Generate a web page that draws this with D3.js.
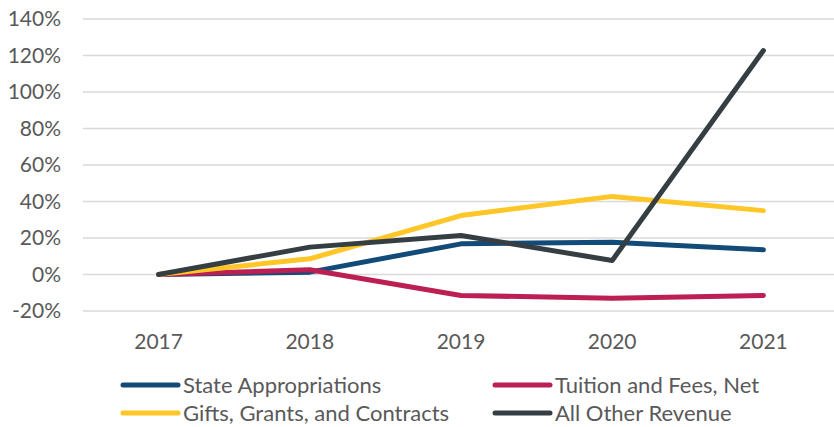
<!DOCTYPE html>
<html lang="en">
<head>
    <meta charset="UTF-8">
    <title>Revenue Change</title>
    <script src="https://d3js.org/d3.v7.min.js"></script>
    <style>
        body { margin: 0; padding: 0; background: #fff; }
        svg text { font-family: Lato, "Open Sans", sans-serif; fill: #595959; }
    </style>
</head>
<body>
    <svg id="chart"></svg>
    <script>
        const width = 834, height = 427;
        const margin = { top: 19, right: -5, bottom: 116, left: 83 };

        const years = ["2017", "2018", "2019", "2020", "2021"];
        const yTicks = [-0.2, 0, 0.2, 0.4, 0.6, 0.8, 1.0, 1.2, 1.4];

        const stateAppropriations = [0, 0.013, 0.168, 0.177, 0.135];
        const tuitionFeesNet      = [0, 0.026, -0.115, -0.13, -0.115];
        const giftsGrantsContracts = [0, 0.086, 0.323, 0.428, 0.35];
        const allOtherRevenue     = [0, 0.15, 0.214, 0.077, 1.227];

        const seriesNames  = ["State Appropriations", "Tuition and Fees, Net", "Gifts, Grants, and Contracts", "All Other Revenue"];
        const seriesColors = ["#124a78", "#bc1f52", "#ffc627", "#353e42"];
        const seriesValues = [stateAppropriations, tuitionFeesNet, giftsGrantsContracts, allOtherRevenue];

        const svg = d3.select("#chart").attr("width", width).attr("height", height);

        const x = d3.scalePoint()
            .domain(years)
            .range([margin.left, width - margin.right])
            .padding(0.5);
        const y = d3.scaleLinear()
            .domain([-0.2, 1.4])
            .range([height - margin.bottom, margin.top]);

        // gridlines
        svg.append("g")
            .selectAll("line")
            .data(yTicks)
            .enter().append("line")
            .attr("x1", margin.left)
            .attr("x2", width)
            .attr("y1", d => y(d))
            .attr("y2", d => y(d))
            .attr("stroke", "#d9d9d9")
            .attr("stroke-width", 1.5);

        // y labels
        svg.append("g")
            .selectAll("text")
            .data(yTicks)
            .enter().append("text")
            .attr("x", 61)
            .attr("y", d => y(d))
            .attr("dy", "0.35em")
            .attr("text-anchor", "end")
            .style("font-size", "21px")
            .text(d => d3.format(".0%")(d).replace("−", "-"));

        // x labels
        svg.append("g")
            .selectAll("text")
            .data(years)
            .enter().append("text")
            .attr("x", d => x(d))
            .attr("y", 349)
            .attr("text-anchor", "middle")
            .style("font-size", "21px")
            .text(d => d);

        const line = d3.line()
            .x((d, i) => x(years[i]))
            .y(d => y(d));

        seriesValues.forEach((vals, k) => {
            svg.append("path")
                .datum(vals)
                .attr("d", line)
                .attr("fill", "none")
                .attr("stroke", seriesColors[k])
                .attr("stroke-width", 5)
                .attr("stroke-linecap", "round")
                .attr("stroke-linejoin", "round");
        });

        // legend
        const legendPos = [[123, 385], [495, 385], [123, 413], [495, 413]];
        seriesNames.forEach((name, k) => {
            const g = svg.append("g")
                .attr("transform", `translate(${legendPos[k][0]},${legendPos[k][1]})`);
            g.append("line")
                .attr("x1", 0).attr("x2", 55)
                .attr("y1", 0).attr("y2", 0)
                .attr("stroke", seriesColors[k])
                .attr("stroke-width", 5)
                .attr("stroke-linecap", "round");
            g.append("text")
                .attr("x", 60)
                .attr("dy", "0.35em")
                .style("font-size", "22px")
                .text(name);
        });
    </script>
</body>
</html>
